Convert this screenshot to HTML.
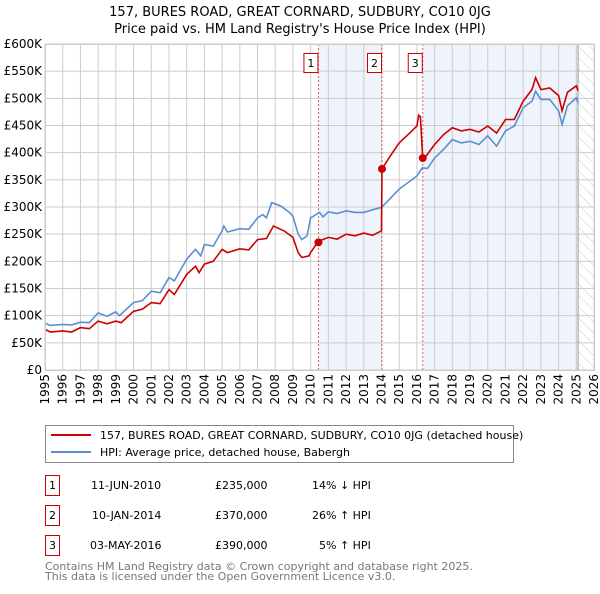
<!DOCTYPE html>
<html><head><meta charset="utf-8"><style>
body{margin:0;background:#fff;width:600px;height:590px;overflow:hidden;font-family:"DejaVu Sans","Liberation Sans",sans-serif;}
svg text{font-family:"DejaVu Sans","Liberation Sans",sans-serif;}
</style></head><body>
<svg id="c" width="600" height="590" xmlns="http://www.w3.org/2000/svg">
<defs><pattern id="h" width="8" height="8" patternUnits="userSpaceOnUse" patternTransform="rotate(-45)"><line x1="0" y1="0" x2="0" y2="8" stroke="#ccc" stroke-width="1"/></pattern></defs>
<text x="300" y="16" text-anchor="middle" font-size="13">157, BURES ROAD, GREAT CORNARD, SUDBURY, CO10 0JG</text>
<text x="300" y="33" text-anchor="middle" font-size="13">Price paid vs. HM Land Registry's House Price Index (HPI)</text>
<g id="plot"></g>
<g>
<rect x="45.5" y="425.5" width="468" height="37" fill="#fff" stroke="#888"/>
<line x1="51" y1="435" x2="91" y2="435" stroke="#cc0000" stroke-width="2"/>
<text x="100" y="439" font-size="11">157, BURES ROAD, GREAT CORNARD, SUDBURY, CO10 0JG (detached house)</text>
<line x1="51" y1="452" x2="91" y2="452" stroke="#5b8fd1" stroke-width="2"/>
<text x="100" y="456" font-size="11">HPI: Average price, detached house, Babergh</text>
</g>
<g font-size="11">
<rect x="45.5" y="475.5" width="14" height="20" fill="#fff" stroke="#cc0000"/><text x="52.5" y="489" text-anchor="middle">1</text>
<text x="91" y="489">11-JUN-2010</text><text x="215" y="489">£235,000</text><text x="312" y="489">14% ↓ HPI</text>
<rect x="45.5" y="505.5" width="14" height="20" fill="#fff" stroke="#cc0000"/><text x="52.5" y="519" text-anchor="middle">2</text>
<text x="92" y="519">10-JAN-2014</text><text x="215" y="519">£370,000</text><text x="312" y="519">26% ↑ HPI</text>
<rect x="45.5" y="535.5" width="14" height="20" fill="#fff" stroke="#cc0000"/><text x="52.5" y="549" text-anchor="middle">3</text>
<text x="90" y="549">03-MAY-2016</text><text x="215" y="549">£390,000</text><text x="319" y="549">5% ↑ HPI</text>
</g>
<text x="45" y="570" font-size="11" fill="#777">Contains HM Land Registry data © Crown copyright and database right 2025.</text>
<text x="45" y="580" font-size="11" fill="#777">This data is licensed under the Open Government Licence v3.0.</text>
</svg>
<script>
const yTicks=[0,50,100,150,200,250,300,350,400,450,500,550,600];
const xYears=[1995,1996,1997,1998,1999,2000,2001,2002,2003,2004,2005,2006,2007,2008,2009,2010,2011,2012,2013,2014,2015,2016,2017,2018,2019,2020,2021,2022,2023,2024,2025,2026];
const hpiT=[1995,1995.3,1996,1996.5,1997,1997.5,1998,1998.5,1999,1999.2,2000,2000.5,2001,2001.5,2002,2002.3,2003,2003.5,2003.8,2004,2004.5,2005,2005.1,2005.3,2006,2006.5,2007,2007.3,2007.5,2007.8,2008.3,2008.8,2009,2009.3,2009.5,2009.8,2010,2010.5,2010.7,2011,2011.5,2012,2012.5,2013,2013.5,2014,2015,2016,2016.3,2016.6,2017,2017.5,2018,2018.5,2019,2019.5,2020,2020.5,2021,2021.5,2022,2022.5,2022.7,2023,2023.5,2024,2024.2,2024.5,2025,2025.1];
const hpiV=[86,82,84,83,88,87,105,99,107,100,124,128,145,142,170,164,204,222,210,231,228,256,265,254,260,259,280,286,280,308,302,290,283,250,240,247,280,290,282,291,288,293,290,290,295,299,333,357,372,371,390,406,424,418,421,415,431,412,440,449,483,495,513,498,498,477,452,486,501,492];
const priceT=[1995,1995.3,1996,1996.5,1997,1997.5,1998,1998.5,1999,1999.3,2000,2000.5,2001,2001.5,2002,2002.3,2003,2003.5,2003.7,2004,2004.5,2005,2005.3,2006,2006.5,2007,2007.5,2007.9,2008.5,2009,2009.3,2009.5,2009.9,2010,2010.44,2011,2011.5,2012,2012.5,2013,2013.5,2014,2014.03,2014.5,2015,2015.5,2016,2016.1,2016.2,2016.33,2016.5,2017,2017.5,2018,2018.5,2019,2019.5,2020,2020.5,2021,2021.5,2022,2022.5,2022.7,2023,2023.5,2024,2024.2,2024.5,2025,2025.1];
const priceV=[75,70,72,70,78,76,90,85,90,87,108,112,124,122,148,139,176,191,179,195,200,222,216,223,221,240,242,265,256,244,216,207,210,216,237,244,241,250,247,252,248,256,370,394,418,433,449,469,466,390,393,415,433,446,440,443,438,449,436,461,461,495,516,538,516,519,505,477,511,523,514];
const saleT=[2010.44,2014.03,2016.33];
const saleV=[235,370,390];
const saleLabels=["1","2","3"];
const X0=45,X1=594,Y0=370,Y1=44;
const xs=t=>X0+(t-1995)/(2026-1995)*(X1-X0);
const ys=v=>Y0-v/600*(Y0-Y1);
const NS="http://www.w3.org/2000/svg",g=document.getElementById('plot');
function mk(tag,a){const e=document.createElementNS(NS,tag);for(const k in a)e.setAttribute(k,a[k]);g.appendChild(e);return e;}
let e;
e=mk('rect',{x:xs(saleT[0]),y:Y1,width:xs(saleT[1])-xs(saleT[0]),height:Y0-Y1,fill:'#eef3fc'});


e=mk('rect',{x:xs(saleT[2]),y:Y1,width:xs(2025.1)-xs(saleT[2]),height:Y0-Y1,fill:'#eef3fc'});


e=mk('rect',{x:xs(2025.1),y:Y1,width:X1-xs(2025.1),height:Y0-Y1,fill:'url(#h)'});


yTicks.forEach(v=>{
 e=mk('line',{x1:X0,x2:X1,y1:ys(v),y2:ys(v),stroke:'#ccc','stroke-width':1});
 
 
 e=mk('text',{x:X0-3,y:ys(v)+4,'text-anchor':'end','font-size':12});
 e.textContent=v===0?'£0':'£'+v+'K';
 
 
});
xYears.forEach(t=>{
 e=mk('line',{x1:xs(t),x2:xs(t),y1:Y1,y2:Y0,stroke:'#ccc','stroke-width':1});
 
 
 e=mk('text',{x:0,y:0,'text-anchor':'end','font-size':12,transform:`translate(${xs(t)+4},${Y0+4}) rotate(-90)`});
 e.textContent=t;
 
 
});
e=mk('line',{x1:xs(2025.1),x2:xs(2025.1),y1:Y1,y2:Y0,stroke:'#999','stroke-width':1});


saleT.forEach((t,i)=>{
 e=mk('line',{x1:xs(t),x2:xs(t),y1:Y1,y2:Y0,stroke:'#e06060','stroke-width':1,'stroke-dasharray':'2,2'});
 
 
});
const pts=(T,V)=>T.map((t,i)=>xs(t).toFixed(1)+','+ys(V[i]).toFixed(1)).join(' ');
e=mk('polyline',{points:pts(hpiT,hpiV),fill:'none',stroke:'#5b8fd1','stroke-width':1.6});


e=mk('polyline',{points:pts(priceT,priceV),fill:'none',stroke:'#cc0000','stroke-width':1.6});


saleT.forEach((t,i)=>{
 e=mk('circle',{cx:xs(t),cy:ys(saleV[i]),r:4,fill:'#cc0000'});
 
 
 e=mk('rect',{x:xs(t)-14.5,y:53.5,width:14,height:19,fill:'#fff',stroke:'#cc0000'});
 
 
 e=mk('text',{x:xs(t)-7.5,y:67,'text-anchor':'middle','font-size':11});
 e.textContent=saleLabels[i];
 
 
});
e=mk('rect',{x:X0+0.5,y:Y1+0.5,width:X1-X0,height:Y0-Y1,fill:'none',stroke:'#ccc'});


</script>
</body></html>
